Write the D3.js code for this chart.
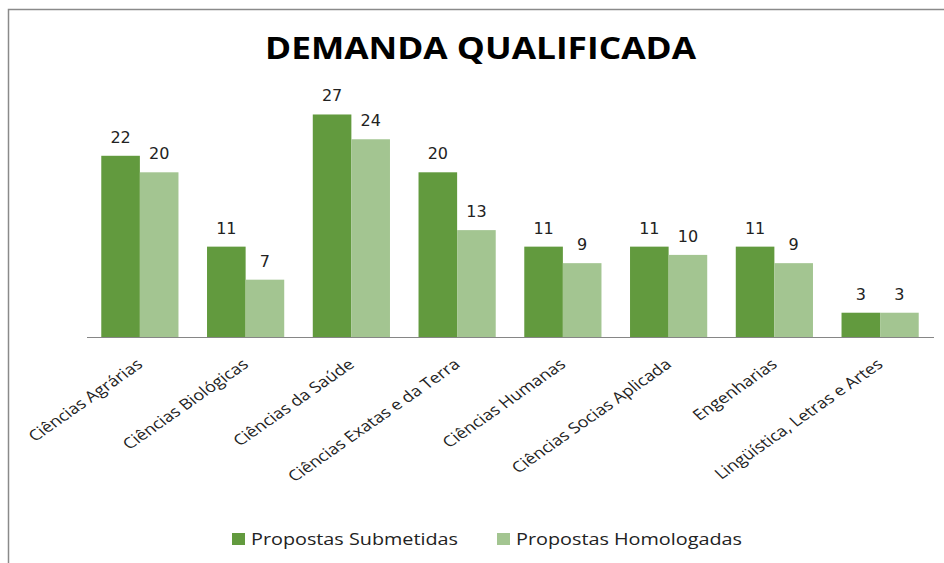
<!DOCTYPE html>
<html>
<head>
<meta charset="utf-8">
<script src="https://cdn.jsdelivr.net/npm/d3@7"></script>
<style>
  body { margin: 0; background: white; overflow: hidden; }
  svg { display: block; }
</style>
</head>
<body>
<script>
const width = 944, height = 563

// data
const categories = ['Ciências Agrárias', 'Ciências Biológicas', 'Ciências da Saúde', 'Ciências Exatas e da Terra',
    'Ciências Humanas', 'Ciências Socias Aplicada', 'Engenharias', 'Lingüística, Letras e Artes']
const submetidas = [22, 11, 27, 20, 11, 11, 11, 3]
const homologadas = [20, 7, 24, 13, 9, 10, 9, 3]
const seriesNames = ['Propostas Submetidas', 'Propostas Homologadas']
const colors = ['#629a3e', '#a3c591']

const data = categories.map((c, i) => ({category: c, values: [submetidas[i], homologadas[i]]}))

const svg = d3.select('body').append('svg')
    .attr('width', width)
    .attr('height', height)

// chart frame: only left and top edges are inside the picture
svg.append('path')
    .attr('d', 'M8.5,' + height + 'V9.5H' + width)
    .attr('fill', 'none')
    .attr('stroke', '#8a8a8a')
    .attr('stroke-width', 1.5)

// title
svg.append('text')
    .attr('x', 480.5)
    .attr('y', 58.5)
    .attr('text-anchor', 'middle')
    .attr('textLength', 431)
    .attr('lengthAdjust', 'spacingAndGlyphs')
    .style('font-family', 'Open Sans')
    .style('font-weight', 'bold')
    .style('font-size', '30px')
    .style('fill', '#000')
    .text('DEMANDA QUALIFICADA')

// scales
const xScale = d3.scaleBand()
    .domain(categories)
    .range([87, 933])
    .paddingInner(0.27)
    .paddingOuter(0.135)

const xSub = d3.scaleBand()
    .domain([0, 1])
    .range([0, xScale.bandwidth()])

const yScale = d3.scaleLinear()
    .domain([0, 30])
    .range([337.5, 89.7])

// bars
const groups = svg.selectAll('.group').data(data)
    .enter()
    .append('g')
        .attr('class', 'group')
        .attr('transform', d => 'translate(' + xScale(d.category) + ',0)')

groups.selectAll('rect')
    .data(d => d.values)
    .enter()
    .append('rect')
        .attr('x', (d, i) => xSub(i))
        .attr('y', d => yScale(d))
        .attr('width', xSub.bandwidth())
        .attr('height', d => yScale(0) - yScale(d))
        .attr('fill', (d, i) => colors[i])

// value labels
groups.selectAll('.val')
    .data(d => d.values)
    .enter()
    .append('text')
        .attr('class', 'val')
        .attr('x', (d, i) => xSub(i) + xSub.bandwidth() / 2)
        .attr('y', d => yScale(d) - 13)
        .attr('text-anchor', 'middle')
        .style('font-family', 'DejaVu Sans')
        .style('font-size', '16px')
        .style('fill', '#222')
        .text(d => d)

// x axis line
svg.append('line')
    .attr('x1', 87)
    .attr('x2', 934)
    .attr('y1', 337.5)
    .attr('y2', 337.5)
    .attr('stroke', '#868686')
    .attr('stroke-width', 1.2)

// category labels, rotated (source image is a bit stretched sideways)
svg.selectAll('.cat').data(categories)
    .enter()
    .append('text')
        .attr('class', 'cat')
        .attr('text-anchor', 'end')
        .attr('transform', d => 'translate(' + (xScale(d) + xScale.bandwidth() / 2 + 4) + ',366)scale(1.2,1)rotate(-40)')
        .style('font-family', 'Open Sans')
        .style('font-size', '15px')
        .style('fill', '#222')
        .text(d => d)

// legend
const legendX = [232, 497]
const legendW = [207, 226]
const legend = svg.selectAll('.legend').data(seriesNames)
    .enter()
    .append('g')
        .attr('class', 'legend')
        .attr('transform', (d, i) => 'translate(' + legendX[i] + ',0)')

legend.append('rect')
    .attr('x', 0)
    .attr('y', 533)
    .attr('width', 13)
    .attr('height', 12)
    .attr('fill', (d, i) => colors[i])

legend.append('text')
    .attr('x', 19)
    .attr('y', 544.5)
    .attr('textLength', (d, i) => legendW[i])
    .attr('lengthAdjust', 'spacingAndGlyphs')
    .style('font-family', 'Open Sans')
    .style('font-size', '17px')
    .style('fill', '#222')
    .text(d => d)
</script>
</body>
</html>
